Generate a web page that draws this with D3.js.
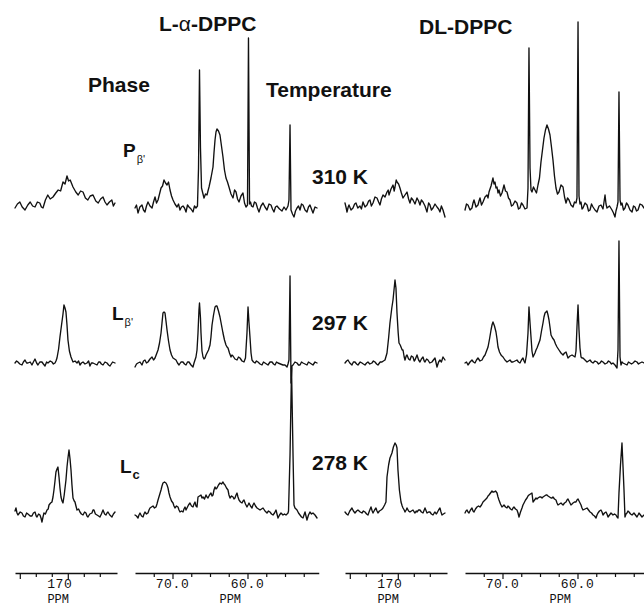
<!DOCTYPE html>
<html><head><meta charset="utf-8">
<script src="https://cdn.jsdelivr.net/npm/d3@7"></script>
<style>html,body{margin:0;padding:0;background:#fff}svg{display:block}</style>
</head><body>
<svg id="c" width="644" height="607"></svg>
<script>
// ---------- DATA: [ppm, intensity] ----------
const la310CO = [[175.6,0],[175.3,4],[175.0,6],[174.7,1],[174.35,-2],[174.0,3],[173.7,6],[173.4,2],[173.1,1],[172.8,6],[172.5,5],[172.3,1],[172.1,0],[171.8,8],[171.5,13],[171.2,9],[170.85,11],[170.5,15],[170.2,18],[169.9,17],[169.6,26],[169.35,24],[169.1,32],[168.9,27],[168.7,28],[168.5,24],[168.35,21],[168.0,16],[167.7,13],[167.4,17],[167.1,16],[166.8,10],[166.5,8],[166.2,12],[165.85,13],[165.5,7],[165.2,5],[164.9,9],[164.6,11],[164.35,6],[164.1,3],[163.8,6],[163.5,8],[163.3,2],[163.1,5]];
const la310Mid = [[75.0,0],[74.8,3],[74.6,-5],[74.35,1],[74.07,3],[73.87,-2],[73.67,-4],[73.47,2],[73.27,6],[73.0,2],[72.73,0],[72.53,6],[72.33,11],[72.13,5],[71.93,8],[71.73,14],[71.53,20],[71.33,22],[71.13,28],[70.93,25],[70.73,23],[70.53,26],[70.33,18],[70.13,12],[69.93,8],[69.67,4],[69.4,1],[69.2,4],[69.0,-2],[68.8,1],[68.6,2],[68.4,0],[68.2,-4],[68.0,3],[67.8,1],[67.53,-1],[67.27,-4],[67.07,2],[66.87,0],[66.67,2],[66.53,40],[66.4,138],[66.27,60],[66.13,20],[66.0,16],[65.8,10],[65.6,14],[65.4,13],[65.27,17],[65.13,21],[64.87,30],[64.6,41],[64.47,55],[64.33,68],[64.2,76],[64.07,79],[63.87,77],[63.67,73],[63.47,62],[63.27,51],[63.07,38],[62.87,30],[62.67,26],[62.47,21],[62.2,14],[61.93,10],[61.73,18],[61.53,16],[61.33,9],[61.13,6],[60.87,12],[60.6,15],[60.4,5],[60.2,1],[60.0,3],[59.87,170],[59.73,4],[59.6,6],[59.47,2],[59.27,1],[59.07,6],[58.87,5],[58.67,0],[58.47,-4],[58.2,2],[57.93,5],[57.67,1],[57.4,-2],[57.13,4],[56.87,3],[56.67,-1],[56.47,-4],[56.27,1],[56.07,2],[55.73,-1],[55.4,-3],[55.13,1],[54.87,-2],[54.6,2],[54.47,8],[54.33,83],[54.2,-2],[54.0,-6],[53.8,-9],[53.6,-3],[53.4,0],[53.2,2],[53.0,-2],[52.8,4],[52.6,3],[52.33,-2],[52.07,-4],[51.87,1],[51.67,3],[51.47,-1],[51.27,-5],[51.0,1],[50.73,0]];
const dl310CO = [[175.6,5],[175.45,0],[175.35,-4],[175.2,1],[175.1,3],[174.85,-2],[174.6,0],[174.4,4],[174.23,5],[174.0,0],[173.73,2],[173.55,-1],[173.35,6],[173.1,1],[172.85,3],[172.65,7],[172.48,8],[172.3,2],[172.1,5],[171.85,11],[171.6,10],[171.4,6],[171.23,3],[171.05,9],[170.85,13],[170.6,11],[170.35,16],[170.2,18],[170.1,13],[169.85,19],[169.6,23],[169.45,17],[169.35,21],[169.2,28],[169.1,26],[168.9,24],[168.73,20],[168.55,15],[168.35,10],[168.1,13],[167.85,16],[167.65,9],[167.48,5],[167.3,10],[167.1,8],[166.85,4],[166.6,10],[166.4,7],[166.23,3],[166.05,8],[165.85,6],[165.6,2],[165.35,-4],[165.15,5],[164.98,3],[164.8,-2],[164.6,0],[164.35,4],[164.1,1],[163.9,-1],[163.73,-4],[163.55,2],[163.35,-2],[163.1,-9]];
const dl310Mid = [[75.0,-2],[74.8,4],[74.6,3],[74.33,-2],[74.07,0],[73.93,5],[73.8,8],[73.53,1],[73.27,3],[73.13,7],[73.0,10],[72.8,3],[72.6,6],[72.33,11],[72.07,13],[71.93,10],[71.8,16],[71.53,22],[71.27,30],[71.13,24],[71.0,26],[70.87,20],[70.73,21],[70.6,15],[70.47,18],[70.27,12],[70.07,15],[69.93,19],[69.8,23],[69.6,17],[69.4,16],[69.2,10],[69.0,8],[68.8,2],[68.6,3],[68.33,7],[68.07,5],[67.87,-1],[67.67,0],[67.47,5],[67.27,3],[67.0,-1],[66.73,0],[66.6,20],[66.47,160],[66.33,40],[66.2,18],[66.07,16],[65.87,21],[65.67,18],[65.47,15],[65.27,23],[65.07,30],[64.87,46],[64.67,58],[64.47,70],[64.27,78],[64.07,83],[63.87,79],[63.67,73],[63.47,61],[63.27,48],[63.07,32],[62.87,20],[62.67,14],[62.47,16],[62.2,23],[61.93,21],[61.73,11],[61.53,5],[61.33,10],[61.13,8],[60.87,3],[60.6,1],[60.4,6],[60.2,5],[60.07,10],[59.93,186],[59.8,12],[59.67,4],[59.53,6],[59.4,-1],[59.27,0],[59.0,5],[58.73,3],[58.53,-3],[58.33,-2],[58.13,4],[57.93,1],[57.67,-2],[57.4,-4],[57.13,2],[56.87,3],[56.6,-1],[56.33,13],[56.2,4],[56.07,0],[55.73,2],[55.4,-2],[55.2,-5],[55.0,-9],[54.87,-3],[54.73,1],[54.6,6],[54.47,116],[54.33,8],[54.2,3],[54.07,5],[53.87,-2],[53.67,0],[53.47,5],[53.27,3],[53.0,-2],[52.73,-4],[52.53,2],[52.33,1],[52.13,-3],[51.93,-2],[51.67,4],[51.4,3],[51.13,0]];

const la297CO = [[175.6,0],[175.4,2],[175.23,1],[175.0,-1],[174.73,-2],[174.55,1],[174.35,3],[174.15,0],[173.98,0],[173.7,1],[173.48,-2],[173.3,1],[173.1,4],[172.9,0],[172.73,-2],[172.5,1],[172.23,1],[172.05,-1],[171.85,-3],[171.65,1],[171.48,0],[171.2,2],[170.98,1],[170.8,-1],[170.6,0],[170.48,2],[170.35,5],[170.15,14],[169.98,26],[169.8,37],[169.6,49],[169.48,58],[169.35,55],[169.23,51],[169.1,38],[168.98,23],[168.8,12],[168.6,6],[168.45,3],[168.35,1],[168.1,2],[167.85,0],[167.65,2],[167.48,-2],[167.3,0],[167.1,1],[166.85,-1],[166.6,0],[166.4,2],[166.23,-3],[166.05,0],[165.85,0],[165.6,-1],[165.35,-2],[165.15,1],[164.98,1],[164.8,-1],[164.6,-2],[164.35,1],[164.1,0],[163.9,-2],[163.73,-3],[163.4,1],[163.1,0]];
const la297Mid = [[75.0,-4],[74.8,-1],[74.6,0],[74.33,1],[74.07,-2],[73.87,2],[73.67,3],[73.47,0],[73.27,1],[73.0,4],[72.73,6],[72.53,3],[72.33,5],[72.13,9],[71.93,13],[71.73,20],[71.53,30],[71.4,40],[71.27,50],[71.13,51],[71.0,50],[70.87,42],[70.73,33],[70.53,22],[70.33,13],[70.13,8],[69.93,5],[69.73,4],[69.53,3],[69.33,0],[69.13,-2],[68.87,1],[68.6,1],[68.4,-1],[68.2,-2],[68.0,1],[67.8,1],[67.53,-2],[67.27,-4],[67.13,0],[67.0,3],[66.87,6],[66.73,13],[66.6,30],[66.47,53],[66.4,60],[66.27,45],[66.2,30],[66.07,12],[65.93,6],[65.8,4],[65.67,5],[65.53,8],[65.4,10],[65.2,13],[65.0,18],[64.87,26],[64.73,38],[64.53,48],[64.33,56],[64.2,57],[64.07,57],[63.87,52],[63.67,46],[63.47,38],[63.27,30],[63.07,23],[62.87,18],[62.73,16],[62.6,15],[62.4,10],[62.2,6],[62.07,8],[61.93,7],[61.67,4],[61.4,3],[61.2,6],[61.0,5],[60.73,2],[60.47,1],[60.27,5],[60.07,30],[59.93,56],[59.8,40],[59.67,26],[59.53,10],[59.4,3],[59.2,1],[59.0,0],[58.8,2],[58.6,1],[58.33,-1],[58.07,-2],[57.87,1],[57.67,0],[57.47,-1],[57.27,-2],[57.0,1],[56.73,1],[56.53,-1],[56.33,-2],[56.13,1],[55.93,0],[55.6,-1],[55.27,-2],[55.0,-2],[54.73,-4],[54.6,-1],[54.47,3],[54.33,87],[54.2,-20],[54.07,-3],[53.93,-2],[53.67,1],[53.4,0],[53.2,-2],[53.0,-2],[52.8,1],[52.6,0],[52.33,-1],[52.07,-2],[51.87,1],[51.67,0],[51.47,-1],[51.27,-2],[51.0,1],[50.73,0]];
const dl297CO = [[175.6,0],[175.4,2],[175.23,3],[175.0,0],[174.73,-2],[174.55,1],[174.35,1],[174.15,-1],[173.98,-2],[173.7,1],[173.48,0],[173.3,-1],[173.1,-2],[172.9,0],[172.73,1],[172.5,-1],[172.23,0],[172.05,2],[171.85,1],[171.65,-1],[171.48,-2],[171.2,1],[170.98,1],[170.8,2],[170.6,3],[170.35,10],[170.15,25],[169.98,40],[169.75,55],[169.6,63],[169.35,83],[169.23,75],[169.1,50],[168.95,30],[168.85,20],[168.7,18],[168.6,16],[168.45,13],[168.35,13],[168.2,6],[168.1,3],[167.95,7],[167.85,8],[167.65,4],[167.48,3],[167.3,7],[167.1,6],[166.95,2],[166.85,3],[166.7,6],[166.6,8],[166.4,3],[166.23,1],[166.05,4],[165.85,6],[165.7,2],[165.6,1],[165.4,4],[165.23,3],[165.0,0],[164.73,1],[164.55,3],[164.35,5],[164.1,-4],[163.9,1],[163.73,3],[163.55,1],[163.35,6],[163.1,3]];
const dl297Mid = [[75.0,0],[74.8,1],[74.6,-2],[74.33,1],[74.07,3],[73.87,1],[73.67,0],[73.47,3],[73.27,5],[73.0,2],[72.73,3],[72.53,6],[72.33,8],[72.13,12],[71.93,16],[71.73,24],[71.53,33],[71.4,38],[71.27,41],[71.07,37],[70.87,31],[70.73,24],[70.6,16],[70.4,11],[70.2,8],[70.07,7],[69.93,6],[69.67,3],[69.4,1],[69.2,2],[69.0,3],[68.8,1],[68.6,1],[68.33,2],[68.07,3],[67.87,1],[67.67,0],[67.47,3],[67.27,5],[67.13,2],[67.0,0],[66.8,8],[66.6,30],[66.47,56],[66.33,40],[66.2,26],[66.07,12],[65.93,6],[65.8,8],[65.67,10],[65.53,13],[65.4,15],[65.2,19],[65.0,23],[64.8,32],[64.6,40],[64.47,46],[64.33,50],[64.2,51],[64.07,52],[63.93,48],[63.8,43],[63.67,36],[63.53,28],[63.33,25],[63.13,23],[62.93,19],[62.73,16],[62.47,13],[62.2,10],[61.93,8],[61.73,10],[61.53,11],[61.4,8],[61.27,5],[61.0,7],[60.73,8],[60.53,7],[60.33,6],[60.2,12],[60.07,36],[59.93,58],[59.8,33],[59.67,15],[59.53,6],[59.4,5],[59.27,5],[59.0,3],[58.73,1],[58.53,2],[58.33,3],[58.13,1],[57.93,0],[57.67,2],[57.4,1],[57.2,-1],[57.0,0],[56.8,2],[56.6,1],[56.33,-1],[56.07,0],[55.87,2],[55.67,1],[55.47,-1],[55.27,0],[55.0,-2],[54.73,-5],[54.6,13],[54.47,122],[54.33,6],[54.2,-2],[54.07,1],[53.93,0],[53.67,-1],[53.4,-2],[53.2,1],[53.0,0],[52.8,-1],[52.6,0],[52.33,2],[52.07,1],[51.87,-1],[51.67,0],[51.4,1],[51.13,0]];

const la278CO = [[175.6,4],[175.48,7],[175.35,2],[175.23,0],[174.95,3],[174.73,2],[174.55,-1],[174.35,-2],[174.15,2],[173.98,1],[173.7,-1],[173.48,-1],[173.3,2],[173.1,3],[172.95,-1],[172.85,-2],[172.65,1],[172.48,0],[172.35,-3],[172.23,-7],[172.1,-2],[171.98,2],[171.8,1],[171.6,5],[171.45,6],[171.35,10],[171.15,12],[170.98,13],[170.85,18],[170.73,25],[170.6,34],[170.48,43],[170.35,46],[170.23,48],[170.1,38],[169.98,27],[169.85,18],[169.72,14],[169.6,12],[169.45,20],[169.23,35],[169.1,48],[168.98,57],[168.85,65],[168.72,56],[168.6,45],[168.48,30],[168.35,17],[168.2,14],[168.1,13],[167.98,9],[167.85,5],[167.65,6],[167.48,3],[167.3,1],[167.1,0],[166.9,3],[166.73,2],[166.6,-1],[166.48,-2],[166.25,1],[165.98,2],[165.85,5],[165.73,5],[165.55,1],[165.35,0],[165.15,-1],[164.98,-2],[164.8,1],[164.6,5],[164.4,1],[164.23,0],[164.1,2],[163.98,3],[163.75,0],[163.48,-2],[163.3,1],[163.1,3]];
const la278Mid = [[75.0,0],[74.8,-1],[74.6,-3],[74.47,0],[74.33,2],[74.13,-1],[73.93,-2],[73.8,1],[73.67,3],[73.47,1],[73.27,2],[73.13,5],[73.0,7],[72.8,8],[72.6,9],[72.4,7],[72.2,8],[72.07,11],[71.93,15],[71.73,20],[71.53,25],[71.4,29],[71.27,32],[71.07,33],[70.87,32],[70.73,30],[70.6,27],[70.47,22],[70.33,18],[70.13,14],[69.93,12],[69.8,9],[69.67,7],[69.47,9],[69.27,8],[69.13,5],[69.0,3],[68.8,4],[68.6,3],[68.47,6],[68.33,8],[68.2,5],[68.07,7],[67.87,10],[67.67,12],[67.47,9],[67.27,8],[67.13,11],[67.0,13],[66.87,9],[66.73,8],[66.6,18],[66.4,19],[66.2,20],[66.07,17],[65.93,18],[65.73,16],[65.53,20],[65.4,18],[65.27,17],[65.07,20],[64.87,22],[64.73,19],[64.6,20],[64.47,25],[64.33,28],[64.2,26],[64.07,27],[63.87,30],[63.67,32],[63.47,31],[63.27,33],[63.13,31],[63.0,30],[62.8,27],[62.6,25],[62.47,20],[62.33,17],[62.13,19],[61.93,18],[61.8,16],[61.67,17],[61.53,20],[61.4,22],[61.27,18],[61.13,15],[60.93,13],[60.73,12],[60.6,14],[60.47,15],[60.27,11],[60.07,8],[59.93,10],[59.8,12],[59.6,9],[59.4,7],[59.27,10],[59.13,12],[58.93,9],[58.73,7],[58.53,6],[58.33,5],[58.13,6],[57.93,7],[57.67,4],[57.4,2],[57.2,4],[57.0,3],[56.8,1],[56.6,0],[56.4,2],[56.2,5],[56.07,1],[55.93,-3],[55.73,0],[55.53,2],[55.4,1],[55.27,0],[55.07,1],[54.87,0],[54.73,1],[54.6,2],[54.53,4],[54.33,60],[54.13,147],[53.93,60],[53.8,10],[53.67,7],[53.53,6],[53.4,5],[53.2,2],[53.0,0],[52.8,-2],[52.6,-3],[52.47,0],[52.33,3],[52.2,-1],[52.07,-5],[51.87,0],[51.67,3],[51.47,1],[51.27,2],[51.0,0],[50.73,-3]];
const dl278CO = [[175.6,3],[175.4,1],[175.23,0],[175.0,4],[174.73,7],[174.55,4],[174.35,2],[174.15,4],[173.98,5],[173.7,3],[173.48,2],[173.3,4],[173.1,3],[172.9,1],[172.73,0],[172.55,4],[172.35,8],[172.2,4],[172.1,2],[171.9,5],[171.73,7],[171.6,4],[171.48,2],[171.3,4],[171.1,5],[170.95,6],[170.85,7],[170.65,10],[170.48,13],[170.35,38],[170.15,50],[169.98,57],[169.73,62],[169.55,68],[169.35,72],[169.2,70],[169.1,67],[168.98,45],[168.8,25],[168.6,13],[168.45,9],[168.35,7],[168.2,5],[168.1,3],[167.95,5],[167.85,7],[167.65,4],[167.48,3],[167.3,4],[167.1,5],[166.95,3],[166.85,2],[166.7,4],[166.6,3],[166.4,5],[166.23,5],[166.05,3],[165.85,2],[165.7,5],[165.6,7],[165.45,4],[165.35,2],[165.15,3],[164.98,3],[164.8,1],[164.6,0],[164.45,2],[164.35,3],[164.2,1],[164.1,2],[163.9,5],[163.73,7],[163.6,3],[163.48,0],[163.3,1],[163.1,2]];
const dl278Mid = [[75.0,2],[74.87,4],[74.73,5],[74.6,3],[74.47,2],[74.27,5],[74.07,7],[73.93,4],[73.8,3],[73.6,6],[73.4,8],[73.2,9],[73.0,8],[72.8,10],[72.6,13],[72.33,15],[72.07,17],[71.93,19],[71.8,20],[71.6,22],[71.4,24],[71.27,23],[71.13,23],[70.93,24],[70.73,22],[70.6,18],[70.47,15],[70.27,11],[70.07,8],[69.93,9],[69.8,10],[69.6,8],[69.4,7],[69.27,9],[69.13,8],[68.93,6],[68.73,5],[68.6,7],[68.47,8],[68.27,6],[68.07,5],[67.93,2],[67.8,-2],[67.6,3],[67.4,7],[67.27,10],[67.13,12],[66.93,15],[66.73,17],[66.6,19],[66.47,20],[66.27,21],[66.07,22],[65.93,13],[65.73,15],[65.53,17],[65.4,16],[65.27,17],[65.07,18],[64.87,18],[64.73,17],[64.6,18],[64.4,19],[64.2,20],[64.07,20],[63.93,19],[63.73,18],[63.53,17],[63.4,17],[63.27,18],[63.07,16],[62.87,15],[62.73,12],[62.6,10],[62.4,11],[62.2,12],[62.07,11],[61.93,10],[61.73,12],[61.53,13],[61.4,15],[61.27,16],[61.07,13],[60.87,10],[60.73,11],[60.6,12],[60.4,13],[60.2,13],[60.07,15],[59.93,16],[59.73,13],[59.53,10],[59.4,7],[59.27,5],[59.0,6],[58.73,7],[58.53,5],[58.33,3],[58.13,2],[57.93,0],[57.73,-1],[57.53,-3],[57.4,0],[57.27,2],[57.07,4],[56.87,5],[56.73,3],[56.6,0],[56.4,2],[56.2,3],[56.07,1],[55.93,-2],[55.73,0],[55.53,2],[55.4,1],[55.27,0],[55.07,1],[54.87,0],[54.73,-2],[54.6,-3],[54.47,22],[54.27,50],[54.07,72],[53.93,48],[53.8,25],[53.67,-2],[53.53,1],[53.4,2],[53.27,4],[53.13,3],[52.93,1],[52.73,0],[52.6,1],[52.47,2],[52.27,0],[52.07,-2],[51.93,0],[51.8,2],[51.6,0],[51.4,-2],[51.27,-1],[51.13,0]];

const coTicks = [175,173,171,169,167,165];
const coMajor = [175,169];
const coTickLabels = [[170,"170"]];
const midTicks = [72.5,70,67.5,65,62.5,60,57.5,55,52.5];
const midMajor = [70,60];
const midTickLabels = [[70,"70.0"],[60,"60.0"]];
const unitLabel = "PPM";
const titles = ["L-", "α", "-DPPC"];
const titleDL = "DL-DPPC";
const temperatures = ["310 K","297 K","278 K"];
const phases = [["P","β'"],["L","β'"],["L","c"]];

// ---------- DRAWING ----------
const svg = d3.select('#c');
svg.append('rect').attr('width',644).attr('height',607).attr('fill','#fff');
const INK = '#111';
const HALF = 330;
const xCO = d3.scaleLinear().domain([175.6,162.85]).range([15,117]);
const xMid = d3.scaleLinear().domain([75,50.5]).range([135,318.75]);
const shift = (s,dx)=> s.copy().range(s.range().map(v=>v+dx));
const xs = [xCO, xMid, shift(xCO,HALF), shift(xMid,HALF)];
const rowBase = [208,363,515];
const spectra = [
  [la310CO, la310Mid, dl310CO, dl310Mid],
  [la297CO, la297Mid, dl297CO, dl297Mid],
  [la278CO, la278Mid, dl278CO, dl278Mid]
];

spectra.forEach((row,r)=>{
  const y = d3.scaleLinear().domain([0,100]).range([rowBase[r], rowBase[r]-100]);
  row.forEach((data,p)=>{
    const x = xs[p];
    const line = d3.line().x(d=>x(d[0])).y(d=>y(d[1]));
    svg.append('path').datum(data).attr('d',line)
      .attr('fill','none').attr('stroke',INK).attr('stroke-width',1.35)
      .attr('stroke-linejoin','round').attr('stroke-linecap','round');
  });
});

// axes
const axisY = 573;
const tickSets = [coTicks, midTicks, coTicks, midTicks];
const majorSets = [coMajor, midMajor, coMajor, midMajor];
const labelSets = [coTickLabels, midTickLabels, coTickLabels, midTickLabels];
const unitPos = [170.2, 62.3, 170.2, 62.3];
const mono = 'Liberation Mono, DejaVu Sans Mono, monospace';
xs.forEach((x,p)=>{
  const g = svg.append('g').attr('transform',`translate(0,${axisY})`)
    .call(d3.axisBottom(x).tickValues(tickSets[p]).tickSize(4).tickSizeOuter(0).tickFormat(''));
  g.select('.domain').attr('stroke',INK).attr('stroke-width',1.3);
  g.selectAll('.tick line').attr('stroke',INK).attr('stroke-width',1.2)
    .attr('y2',d=>majorSets[p].includes(d)?6:4);
  g.selectAll('.tick text').remove();
  labelSets[p].forEach(([v,t])=>{
    svg.append('text').attr('x',x(v)).attr('y',588).attr('text-anchor','middle')
      .attr('font-family',mono).attr('font-size',13).attr('letter-spacing',0.6)
      .attr('fill',INK).text(t);
  });
  svg.append('text').attr('x',x(unitPos[p])).attr('y',602.5).attr('text-anchor','middle')
    .attr('font-family',mono).attr('font-size',12)
    .attr('fill',INK).text(unitLabel);
});

// titles
const bold = sel => sel.attr('font-family','Liberation Sans, Arial, Helvetica, sans-serif')
  .attr('font-weight','bold').attr('fill',INK);
const t1 = svg.append('text').attr('x',159).attr('y',31).attr('font-size',21).call(bold);
t1.append('tspan').text(titles[0]);
t1.append('tspan').attr('font-weight','normal').text(titles[1]);
t1.append('tspan').text(titles[2]);
svg.append('text').attr('x',419).attr('y',34).attr('font-size',21).call(bold).text(titleDL);
svg.append('text').attr('x',88).attr('y',92).attr('font-size',21).call(bold).text('Phase');
svg.append('text').attr('x',266).attr('y',97).attr('font-size',21).call(bold).text('Temperature');

const tempY = [184,330,470];
temperatures.forEach((t,i)=>{
  svg.append('text').attr('x',312).attr('y',tempY[i]).attr('font-size',21).call(bold).text(t);
});

const phasePos = [[123,157],[112,320],[120,473]];
phases.forEach(([m,s],i)=>{
  const [px,py] = phasePos[i];
  const main = svg.append('text').attr('x',px).attr('y',py).attr('font-size',19).call(bold).text(m);
  const w = main.node().getComputedTextLength();
  const sub = svg.append('text').attr('x',px+w+1).attr('y',py+6).call(bold).text(s);
  if (s === 'c') sub.attr('font-size',13);
  else sub.attr('font-size',11).attr('font-weight','normal');
});
</script>
</body></html>
